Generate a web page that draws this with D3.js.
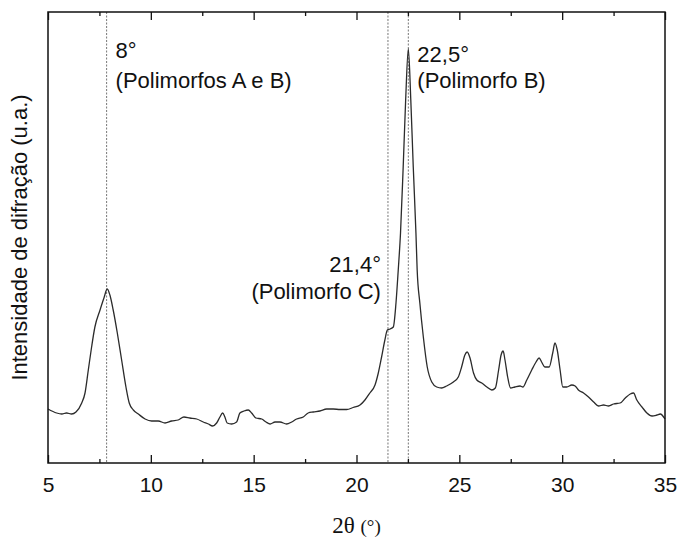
<!DOCTYPE html>
<html>
<head>
<meta charset="utf-8">
<script src="https://cdn.jsdelivr.net/npm/d3@7"></script>
<style>
  body { margin: 0; background: #fff; }
  text { font-family: "Liberation Sans", Arial, sans-serif; fill: #111; }
</style>
</head>
<body>
<div id="chart"></div>
<script>

// 2theta positions (degrees)
var two_theta = [5.0, 5.42, 5.67, 5.9, 6.15, 6.36, 6.64, 6.8, 6.96, 7.12, 7.28, 7.53, 7.72, 7.88, 8.01,
  8.17, 8.37, 8.58, 8.79, 8.95, 9.15, 9.39, 9.72, 10.04, 10.36, 10.69, 11.01, 11.33, 11.61, 11.9,
  12.23, 12.55, 12.8, 13.0, 13.2, 13.36, 13.49, 13.6, 13.71, 13.93, 14.17, 14.33, 14.53, 14.74, 14.9,
  15.11, 15.39, 15.6, 15.8, 16.04, 16.28, 16.6, 16.85, 17.09, 17.41, 17.65, 17.9, 18.22, 18.55, 18.87,
  19.2, 19.52, 19.84, 20.17, 20.41, 20.65, 20.9, 21.06, 21.22, 21.38, 21.5, 21.63, 21.79, 21.92, 22.03,
  22.14, 22.27, 22.39, 22.52, 22.64, 22.76, 22.89, 22.95, 23.08, 23.25, 23.44, 23.66, 23.9, 24.14, 24.38,
  24.71, 24.95, 25.11, 25.27, 25.38, 25.52, 25.69, 25.85, 26.09, 26.34, 26.58, 26.75, 26.91, 27.03, 27.13,
  27.22, 27.35, 27.49, 27.7, 27.95, 28.09, 28.28, 28.52, 28.73, 28.88, 29.0, 29.16, 29.37, 29.54, 29.65,
  29.76, 29.9, 30.03, 30.22, 30.47, 30.63, 30.79, 31.04, 31.28, 31.53, 31.77, 32.01, 32.26, 32.5, 32.82,
  33.07, 33.31, 33.47, 33.63, 33.88, 34.12, 34.37, 34.61, 34.77, 35.0]

// intensity (arbitrary units)
var intensity = [54, 50, 49, 50, 49, 51, 60, 70, 93, 116, 136, 153, 165, 174, 168,
  153, 130, 103, 76, 60, 53, 49, 44, 42, 42, 40, 42, 43, 46, 45,
  44, 41, 39, 37, 40, 46, 50, 46, 40, 39, 41, 50, 52, 53, 50,
  45, 44, 41, 39, 41, 41, 39, 41, 44, 46, 50, 51, 52, 54, 54,
  53.5, 53.5, 55.5, 58, 63, 70, 78, 90, 106, 123, 133, 134, 136, 160, 193,
  230, 296, 363, 414, 363, 296, 230, 193, 160, 126, 96, 81, 76, 75, 77,
  81, 86, 96, 108, 111, 105, 90, 83, 80, 76, 73, 75, 93, 108, 112,
  103, 86, 75, 76, 77, 76, 83, 93, 101, 105, 101, 96, 96, 110, 120,
  113, 93, 76, 76, 78, 77, 73, 70, 66, 61, 57, 58, 57, 59, 60,
  65, 69, 70, 63, 56, 50, 47, 48, 49, 44]

// axis ticks
var major_ticks = [5, 10, 15, 20, 25, 30, 35]
var minor_ticks = [7.5, 12.5, 17.5, 22.5, 27.5, 32.5]

// marked peaks
var peak_positions = [7.85, 21.53, 22.52]
var peak_angles = ["8°", "21,4°", "22,5°"]
var peak_names = ["(Polimorfos A e B)", "(Polimorfo C)", "(Polimorfo B)"]


var width = 679, height = 538
var margin = {top: 12, right: 14, bottom: 75, left: 48}

var svg = d3.select("#chart").append("svg")
  .attr("width", width)
  .attr("height", height)

var x = d3.scaleLinear().domain([5, 35]).range([margin.left, width - margin.right])
var y = d3.scaleLinear().domain([0, 451]).range([height - margin.bottom, margin.top])

var points = two_theta.map(function(d, i){ return [d, intensity[i]] })

// dashed guide lines at the peaks
svg.selectAll(".guide")
  .data(peak_positions)
  .enter().append("line")
    .attr("class", "guide")
    .attr("x1", function(d){ return x(d) })
    .attr("x2", function(d){ return x(d) })
    .attr("y1", y.range()[1])
    .attr("y2", y.range()[0])
    .attr("stroke", "#777")
    .attr("stroke-width", 1)
    .attr("stroke-dasharray", "2,1.5")

// diffraction pattern
var line = d3.line()
  .curve(d3.curveMonotoneX)
  .x(function(d){ return x(d[0]) })
  .y(function(d){ return y(d[1]) })

svg.append("path")
  .datum(points)
  .attr("d", line)
  .attr("fill", "none")
  .attr("stroke", "#2b2b2b")
  .attr("stroke-width", 1.3)
  .attr("stroke-linejoin", "round")

// bottom axis, ticks pointing inwards
var x_bottom = svg.append("g")
  .attr("transform", "translate(0," + y.range()[0] + ")")
  .call(d3.axisBottom(x).tickValues(major_ticks).tickSize(-8).tickSizeOuter(0).tickPadding(14))
x_bottom.select(".domain").remove()
x_bottom.selectAll("text").style("font-size", "21px").style("font-family", "Liberation Sans, Arial")

svg.append("g")
  .attr("transform", "translate(0," + y.range()[0] + ")")
  .call(d3.axisBottom(x).tickValues(minor_ticks).tickSize(-4).tickFormat(""))
  .select(".domain").remove()

// top axis, no labels
var x_top = svg.append("g")
  .attr("transform", "translate(0," + y.range()[1] + ")")
  .call(d3.axisTop(x).tickValues(major_ticks).tickSize(-8).tickFormat(""))
x_top.select(".domain").remove()

svg.append("g")
  .attr("transform", "translate(0," + y.range()[1] + ")")
  .call(d3.axisTop(x).tickValues(minor_ticks).tickSize(-4).tickFormat(""))
  .select(".domain").remove()

svg.selectAll(".tick line").attr("stroke", "#111").attr("stroke-width", 1.3)

// frame
svg.append("rect")
  .attr("x", x.range()[0])
  .attr("y", y.range()[1])
  .attr("width", x.range()[1] - x.range()[0])
  .attr("height", y.range()[0] - y.range()[1])
  .attr("fill", "none")
  .attr("stroke", "#111")
  .attr("stroke-width", 1.5)

// peak labels
var label_pos = [
  {dx: 9, y1: 58, y2: 88, anchor: "start"},
  {dx: -7, y1: 272, y2: 299, anchor: "end"},
  {dx: 9, y1: 62, y2: 88, anchor: "start"}
]

peak_positions.forEach(function(p, i){
  var lp = label_pos[i]
  svg.append("text")
    .attr("x", x(p) + lp.dx)
    .attr("y", lp.y1)
    .attr("text-anchor", lp.anchor)
    .style("font-size", "22px")
    .text(peak_angles[i])
  svg.append("text")
    .attr("x", x(p) + lp.dx)
    .attr("y", lp.y2)
    .attr("text-anchor", lp.anchor)
    .style("font-size", "22px")
    .text(peak_names[i])
})

// axis titles
var x_title = svg.append("text")
  .attr("x", (x.range()[0] + x.range()[1]) / 2)
  .attr("y", 533)
  .attr("text-anchor", "middle")
  .style("font-family", "Liberation Serif, Times New Roman, serif")
x_title.append("tspan").style("font-size", "23px").text("2θ ")
x_title.append("tspan").style("font-size", "19px").text("(°)")

svg.append("text")
  .attr("transform", "translate(27," + (y.range()[0] + y.range()[1]) / 2 + ") rotate(-90)")
  .attr("text-anchor", "middle")
  .style("font-size", "22px")
  .text("Intensidade de difração (u.a.)")

</script>
</body>
</html>
